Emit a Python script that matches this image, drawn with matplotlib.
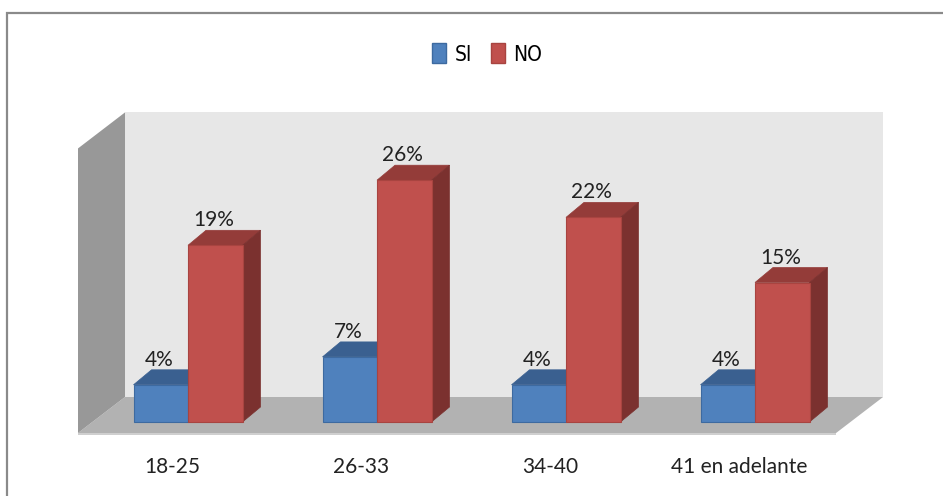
import matplotlib
matplotlib.use("Agg")
import matplotlib.pyplot as plt
from matplotlib.patches import Polygon, Patch, Rectangle
from matplotlib.font_manager import FontProperties

# ---- data ----
categories = ["18-25", "26-33", "34-40", "41 en adelante"]
series_names = ["SI", "NO"]
si_values = [4, 7, 4, 4]
no_values = [19, 26, 22, 15]

# ---- styling ----
FRONT = {"SI": "#4f81bd", "NO": "#c0504d"}
TOP = {"SI": "#3a6090", "NO": "#943c39"}
SIDE = {"SI": "#355a88", "NO": "#7b312f"}
EDGE = {"SI": "#3d6aa0", "NO": "#a84440"}

plt.rcParams["font.family"] = ["Lato", "DejaVu Sans"]

W, H = 943, 496
fig = plt.figure(figsize=(W / 100, H / 100), dpi=100)
fig.patch.set_facecolor("white")

# pixel scale of the plot area
x0px, xs = 188, 189.0
y0px, ys = 422, 9.3
xlim = (-0.75, 3.75)
ylim = (-6.0, 37.0)
left = (x0px + xs * xlim[0]) / W
width = xs * (xlim[1] - xlim[0]) / W
bottom = (H - (y0px - ys * ylim[0])) / H
height = ys * (ylim[1] - ylim[0]) / H
ax = fig.add_axes([left, bottom, width, height])
ax.set_xlim(*xlim)
ax.set_ylim(*ylim)
ax.axis("off")

# outer chart border
fig.patches.append(Rectangle((6.5 / W, -0.05), 1.2, (H - 13) / H + 0.05,
                             transform=fig.transFigure, fill=False,
                             edgecolor="#8a8a8a", linewidth=1.6))

# ---- 3D room: floor, back wall, left wall ----
room_x0, room_x1 = -0.582, 3.429
floor_y = -11 / ys
room_dx, room_dy = 47 / xs, 36 / ys
wall_h = 30.6

floor = Polygon([(room_x0, floor_y), (room_x1, floor_y),
                 (room_x1 + room_dx, floor_y + room_dy),
                 (room_x0 + room_dx, floor_y + room_dy)],
                closed=True, facecolor="#b2b2b2", edgecolor="none", zorder=1)
floor_edge = Polygon([(room_x0, floor_y), (room_x1, floor_y),
                      (room_x1, floor_y - 0.25), (room_x0, floor_y - 0.25)],
                     closed=True, facecolor="#cfcfcf", edgecolor="none", zorder=1)
back = Polygon([(room_x0 + room_dx, floor_y + room_dy),
                (room_x1 + room_dx, floor_y + room_dy),
                (room_x1 + room_dx, floor_y + room_dy + wall_h),
                (room_x0 + room_dx, floor_y + room_dy + wall_h)],
               closed=True, facecolor="#e7e7e7", edgecolor="none", zorder=0.5)
side_wall = Polygon([(room_x0, floor_y), (room_x0 + room_dx, floor_y + room_dy),
                     (room_x0 + room_dx, floor_y + room_dy + wall_h),
                     (room_x0, floor_y + wall_h)],
                    closed=True, facecolor="#989898", edgecolor="none", zorder=1)
for p in (back, floor, floor_edge, side_wall):
    p.set_clip_on(False)
    ax.add_patch(p)

# ---- 3D bars ----
bar_w = 54.5 / xs
bar_dx, bar_dy = 18 / xs, 15 / ys


def draw_bar(xl, val, key, z):
    xr = xl + bar_w
    ax.bar(xl, val, width=bar_w, align="edge", color=FRONT[key],
           edgecolor=EDGE[key], linewidth=0.8, zorder=z + 0.2)
    top = Polygon([(xl, val), (xr, val), (xr + bar_dx, val + bar_dy),
                   (xl + bar_dx, val + bar_dy)], closed=True,
                  facecolor=TOP[key], edgecolor=TOP[key], linewidth=0.5, zorder=z)
    side = Polygon([(xr, 0), (xr + bar_dx, bar_dy), (xr + bar_dx, val + bar_dy),
                    (xr, val)], closed=True,
                   facecolor=SIDE[key], edgecolor=SIDE[key], linewidth=0.5, zorder=z)
    ax.add_patch(top)
    ax.add_patch(side)
    ax.annotate(f"{val}%", (xl + bar_w / 2, val), xytext=(-1, 18),
                textcoords="offset points", ha="center", va="center",
                fontsize=15, color="#222222", zorder=10)


for i in range(len(categories)):
    draw_bar(i - bar_w, si_values[i], "SI", 2 + i * 2)
    draw_bar(i, no_values[i], "NO", 3 + i * 2)
    ax.text(i - 16 / xs, -45 / ys, categories[i], ha="center", va="center",
            fontsize=15, color="#222222")

# ---- legend ----
handles = [Patch(facecolor=FRONT[k], edgecolor=EDGE[k], linewidth=1.0)
           for k in series_names]
legend_font = FontProperties(family="DejaVu Sans", stretch="condensed", size=15)
fig.legend(handles, series_names, loc="center", bbox_to_anchor=(487 / W, 1 - 54 / H),
           ncol=2, frameon=False, handlelength=0.7, handleheight=1.1,
           handletextpad=0.4, columnspacing=0.9, prop=legend_font)

fig.savefig("out.png", dpi=100, facecolor="white")
